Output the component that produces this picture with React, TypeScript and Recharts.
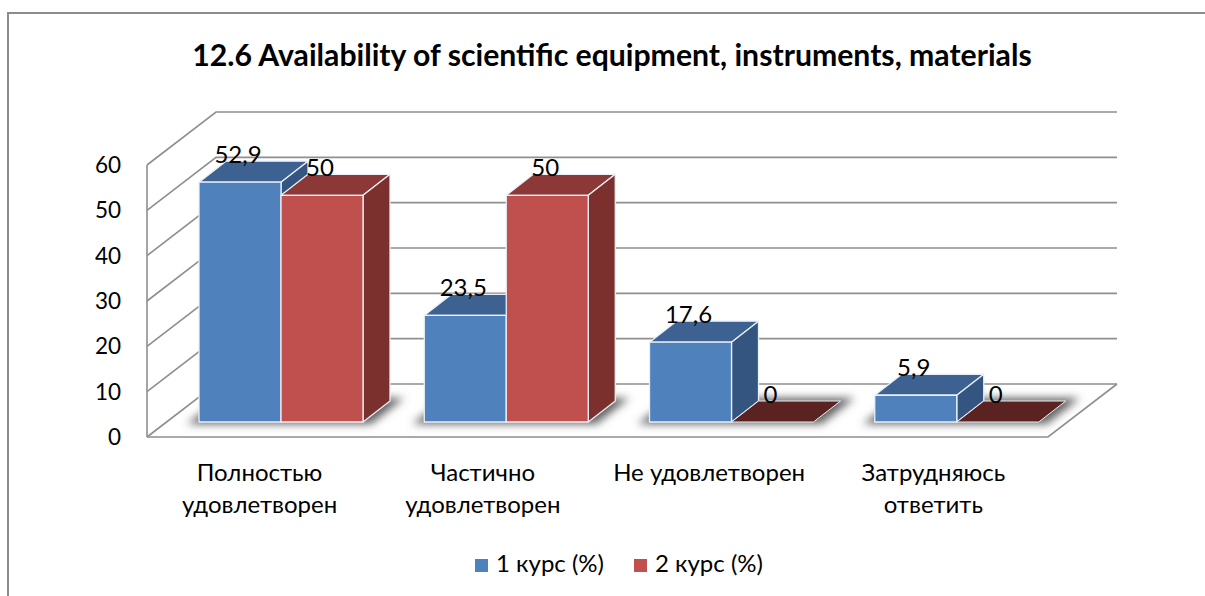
import React from 'react';
import { BarChart, Bar, XAxis, YAxis, Legend, CartesianGrid } from 'recharts';

const categories = [
  ['Полностью', 'удовлетворен'],
  ['Частично', 'удовлетворен'],
  ['Не удовлетворен'],
  ['Затрудняюсь', 'ответить'],
];
const course1 = [52.9, 23.5, 17.6, 5.9];
const course2 = [50, 50, 0, 0];
const yTicks = [0, 10, 20, 30, 40, 50, 60];
const seriesNames = ['1 курс (%)', '2 курс (%)'];

const rows = categories.map((c, i) => ({ key: c.join(' '), a: course1[i], b: course2[i] }));

const FONT = 'Lato, "Open Sans", sans-serif';
const WALL_DX = 69;
const WALL_DY = 53;
const BAR_SHIFT_X = 21.6;
const BAR_SHIFT_Y = -15;
const DEPTH_X = 27;
const DEPTH_Y = 21;
const LEFT = 147;
const RIGHT = 1048;
const PLOT_TOP = 165;
const PLOT_H = 272;
const GRID = '#8f8f8f';
const EDGE = '#eaf0f6';
const tickNudge = [0, -2, -1, -2];

const WallLine = (p: any) => {
  const y = p.y1;
  const isFloor = Math.abs(y - (PLOT_TOP + PLOT_H)) < 1;
  const isTop = Math.abs(y - PLOT_TOP) < 1;
  return (
    <g key={p.key ?? y}>
      <polyline
        points={`${LEFT},${y} ${LEFT + WALL_DX},${y - WALL_DY} ${RIGHT + WALL_DX},${y - WALL_DY}`}
        fill="none" stroke={GRID} strokeWidth={1.6} />
      {isFloor && (
        <polyline points={`${LEFT},${y} ${RIGHT},${y} ${RIGHT + WALL_DX},${y - WALL_DY}`}
          fill="none" stroke={GRID} strokeWidth={1.6} />
      )}
      {isTop && (
        <line x1={LEFT} y1={y} x2={LEFT} y2={y + PLOT_H} stroke={GRID} strokeWidth={1.6} />
      )}
    </g>
  );
};

const YTick = (p: any) => {
  const { y, payload } = p;
  return (
    <text x={121} y={y} dy={8} textAnchor="end" fontFamily={FONT} fontSize={22.5} fill="#000">
      {payload.value}
    </text>
  );
};

const XTick = (p: any) => {
  const { x, index } = p;
  const lines = categories[index];
  return (
    <text textAnchor="middle" fontFamily={FONT} fontSize={24} fill="#000">
      {lines.map((l: string, i: number) => (
        <tspan key={i} x={x + tickNudge[index]} y={481 + i * 32}>{l}</tspan>
      ))}
    </text>
  );
};

const makeShape = (face: string, top: string, side: string, floor: string, withShadow: boolean) => (p: any) => {
  const x = p.x + BAR_SHIFT_X;
  const w = p.width;
  const h = p.height;
  const y = p.y + BAR_SHIFT_Y;
  const base = y + h;
  const dx = DEPTH_X;
  const dy = DEPTH_Y;
  return (
    <g>
      {withShadow && (
        <polygon
          points={`${x - 12},${base + 2} ${x + 2 * w + 8},${base + 2} ${x + 2 * w + dx + 14},${base - dy - 3} ${x + dx - 4},${base - dy - 3}`}
          fill="#626262" filter="url(#floorShadow)" />
      )}
      {h > 0.5 ? (
        <g stroke={EDGE} strokeWidth={1.3} strokeLinejoin="round">
          <polygon points={`${x},${y} ${x + dx},${y - dy} ${x + w + dx},${y - dy} ${x + w},${y}`} fill={top} />
          <polygon points={`${x + w},${y} ${x + w + dx},${y - dy} ${x + w + dx},${base - dy} ${x + w},${base}`} fill={side} />
          <rect x={x} y={y} width={w} height={h} fill={face} />
        </g>
      ) : (
        <polygon
          points={`${x},${base} ${x + dx},${base - dy} ${x + w + dx},${base - dy} ${x + w},${base}`}
          fill={floor} stroke={EDGE} strokeWidth={1} />
      )}
    </g>
  );
};

const valueLabel = (p: any) => {
  const { x, y, width, value } = p;
  return (
    <text
      x={x + BAR_SHIFT_X + width / 2 - 2}
      y={y + BAR_SHIFT_Y - 19}
      textAnchor="middle"
      fontFamily={FONT}
      fontSize={24}
      fill="#000"
    >
      {String(value).replace('.', ',')}
    </text>
  );
};

export default function App() {
  return (
    <div style={{ position: 'absolute', left: 0, top: 0, width: 1205, height: 596, overflow: 'hidden', background: '#fff' }}>
      <div style={{ position: 'absolute', left: 7, top: 12, width: 1300, height: 700, border: '2px solid #8c8c8c' }} />
      <div style={{ position: 'absolute', left: 0, top: 0 }}>
        <BarChart
          width={1205}
          height={596}
          data={rows}
          margin={{ left: LEFT - 60, right: 1205 - RIGHT, top: PLOT_TOP, bottom: 159 - 60 }}
          barCategoryGap="13.5%"
          barGap={0}
        >
          <defs>
            <filter id="floorShadow" x="-20%" y="-60%" width="140%" height="220%">
              <feGaussianBlur stdDeviation="4" />
            </filter>
          </defs>
          <text x={612} y={66} textAnchor="middle" fontFamily={FONT} fontSize={30.2} fontWeight={700} fill="#000">
            12.6 Availability of scientific equipment, instruments, materials
          </text>
          <CartesianGrid vertical={false} horizontal={WallLine} />
          <XAxis dataKey="key" axisLine={false} tickLine={false} height={60} interval={0} tick={XTick} />
          <YAxis domain={[0, 60]} ticks={yTicks} axisLine={false} tickLine={false} width={60} tick={YTick} interval={0} />
          <Legend
            layout="horizontal"
            verticalAlign="middle"
            align="center"
            iconType="square"
            iconSize={13}
            wrapperStyle={{ top: 548, left: 464, width: 340, fontFamily: FONT, fontSize: 24, color: '#000' }}
            formatter={(v: any) => <span style={{ color: '#000', marginLeft: 4, marginRight: 20 }}>{v}</span>}
          />
          <Bar dataKey="a" name={seriesNames[0]} fill="#4f81bd" isAnimationActive={false}
            shape={makeShape('#4f81bd', '#3d6292', '#33557f', '#2c4668', true)} label={valueLabel} />
          <Bar dataKey="b" name={seriesNames[1]} fill="#c0504d" isAnimationActive={false}
            shape={makeShape('#c0504d', '#8c3836', '#7b302e', '#5a2322', false)} label={valueLabel} />
        </BarChart>
      </div>
    </div>
  );
}
